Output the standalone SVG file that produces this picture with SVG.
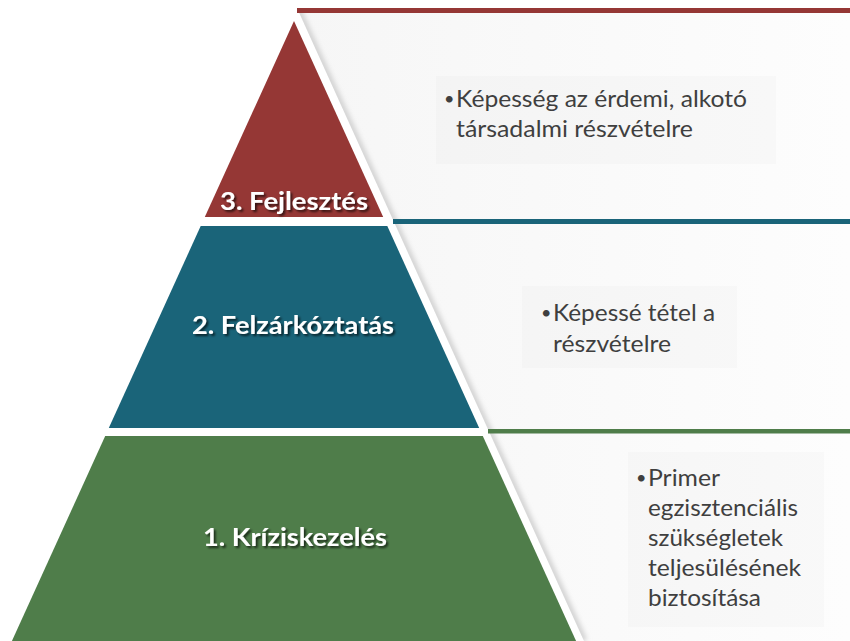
<svg xmlns="http://www.w3.org/2000/svg" width="850" height="641" viewBox="0 0 850 641">
<defs>
  <linearGradient id="panelBg" x1="0" y1="0" x2="1" y2="0">
    <stop offset="0" stop-color="#f6f6f6"/>
    <stop offset="1" stop-color="#fdfdfd"/>
  </linearGradient>
  <filter id="tshadow" x="-10%" y="-40%" width="130%" height="180%">
    <feDropShadow dx="2" dy="2" stdDeviation="1.2" flood-color="#000" flood-opacity="0.65"/>
  </filter>
  <filter id="soft" x="-20%" y="-5%" width="140%" height="110%">
    <feGaussianBlur stdDeviation="2.5"/>
  </filter>
  <clipPath id="panelClip">
    <polygon points="297,8 850,8 850,641 584,641"/>
  </clipPath>
</defs>
<style>
  .title{font-family:Lato,"Open Sans","Liberation Sans",sans-serif;font-weight:700;font-size:25px;fill:#ffffff;filter:url(#tshadow)}
  .body{font-family:Lato,"Open Sans","Liberation Sans",sans-serif;font-size:23px;fill:#3f3f3f}
  .bullet{font-family:Lato,"Open Sans","Liberation Sans",sans-serif;font-size:18px;fill:#3f3f3f}
  .box{fill:#000;fill-opacity:0.015}
</style>

<rect width="850" height="641" fill="#ffffff"/>

<g id="panels">
  <polygon points="297,8 850,8 850,641 584,641" fill="url(#panelBg)"/>
  <line x1="297" y1="8" x2="584" y2="641" stroke="#d2d2d2" stroke-width="7" filter="url(#soft)" clip-path="url(#panelClip)"/>
</g>

<g id="level3">
  <polygon points="294,21 383.2,217 204.8,217" fill="#953735"/>
  <rect x="297" y="8" width="553" height="5" fill="#953735"/>
  <text class="title" x="220" y="210" textLength="148" lengthAdjust="spacingAndGlyphs">3. Fejlesztés</text>
</g>
<g id="desc3">
  <rect class="box" x="436" y="76" width="340" height="88"/>
  <text class="bullet" x="444" y="105">•</text>
  <text class="body" x="456" y="107" textLength="291" lengthAdjust="spacingAndGlyphs">Képesség az érdemi, alkotó</text>
  <text class="body" x="456" y="137" textLength="237" lengthAdjust="spacingAndGlyphs">társadalmi részvételre</text>
</g>

<g id="level2">
  <polygon points="200.7,226 387.3,226 479.2,428 108.8,428" fill="#1a6479"/>
  <rect x="393" y="219" width="457" height="5" fill="#1a6479"/>
  <text class="title" x="192" y="334" textLength="202" lengthAdjust="spacingAndGlyphs">2. Felzárkóztatás</text>
</g>
<g id="desc2">
  <rect class="box" x="522" y="286" width="215" height="82"/>
  <text class="bullet" x="541" y="319">•</text>
  <text class="body" x="553" y="321" textLength="162" lengthAdjust="spacingAndGlyphs">Képessé tétel a</text>
  <text class="body" x="553" y="352" textLength="118" lengthAdjust="spacingAndGlyphs">részvételre</text>
</g>

<g id="level1">
  <polygon points="105.2,436 482.8,436 577.9,645 10.1,645" fill="#4f7d4a"/>
  <rect x="488" y="429" width="362" height="4.5" fill="#4f7d4a"/>
  <text class="title" x="203" y="546" textLength="184" lengthAdjust="spacingAndGlyphs">1. Kríziskezelés</text>
</g>
<g id="desc1">
  <rect class="box" x="628" y="452" width="196" height="175"/>
  <text class="bullet" x="636" y="484">•</text>
  <text class="body" x="648" y="486" textLength="72" lengthAdjust="spacingAndGlyphs">Primer</text>
  <text class="body" x="648" y="516" textLength="150" lengthAdjust="spacingAndGlyphs">egzisztenciális</text>
  <text class="body" x="648" y="546" textLength="135" lengthAdjust="spacingAndGlyphs">szükségletek</text>
  <text class="body" x="648" y="576" textLength="153" lengthAdjust="spacingAndGlyphs">teljesülésének</text>
  <text class="body" x="648" y="606" textLength="113" lengthAdjust="spacingAndGlyphs">biztosítása</text>
</g>

<g id="connectors"/>
</svg>
